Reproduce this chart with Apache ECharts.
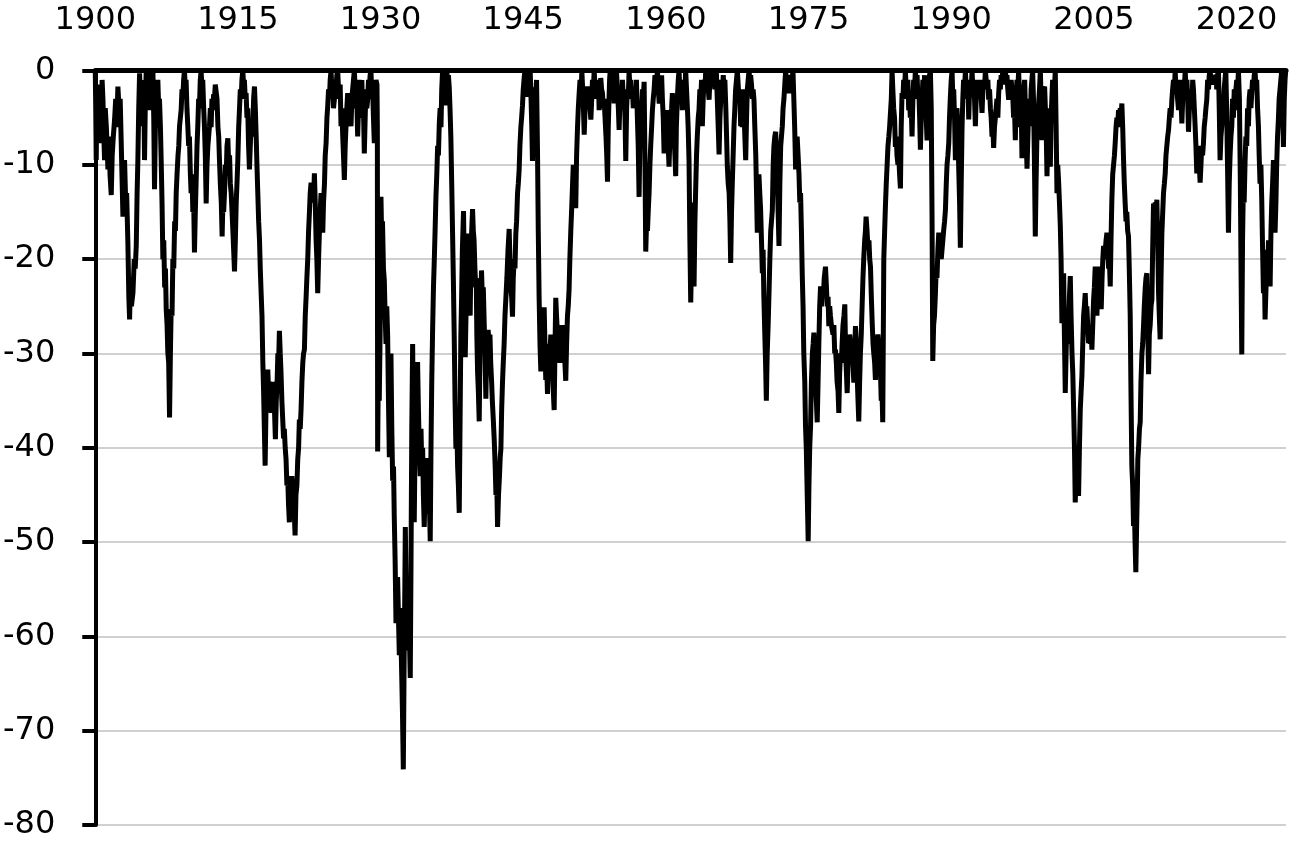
<!DOCTYPE html>
<html>
<head>
<meta charset="utf-8">
<script src="https://cdn.jsdelivr.net/npm/echarts@6/dist/echarts.min.js"></script>
<style>
html,body{margin:0;padding:0;background:#fff;}
#chart{width:1290px;height:841px;}
</style>
</head>
<body>
<div id="chart"></div>
<script>
// Drawdown (%), as [year, value] pairs
const era1900_1929 = [
[1900.00,0],[1900.05,-4],[1900.10,-9.5],[1900.18,-2],[1900.25,-6],[1900.30,-1.5],[1900.38,-5],[1900.46,-7.7],[1900.55,-2],[1900.65,-5],[1900.72,-1],[1900.81,-3.1],[1900.90,-7],[1900.98,-9.5],[1901.05,-4],[1901.16,-5.9],[1901.25,-8],[1901.33,-10.5],[1901.45,-7],[1901.55,-11],[1901.68,-13.2],[1901.78,-9],[1901.90,-7],[1902.03,-5.2],[1902.15,-3],[1902.25,-6],[1902.38,-1.7],[1902.50,-4],[1902.62,-3],[1902.73,-7.7],[1902.91,-15.5],[1903.00,-12],[1903.08,-9.5],[1903.20,-14],[1903.30,-13],[1903.43,-18.3],[1903.53,-24],[1903.61,-26.4],[1903.70,-22],[1903.80,-25],[1903.96,-23.6],[1904.10,-20],[1904.20,-21],[1904.31,-18.6],[1904.40,-13],[1904.48,-9.5],[1904.57,-4],[1904.66,-0.3],[1904.75,-3],[1904.83,-5.9],[1904.92,-1],[1905.00,-4],[1905.10,-2],[1905.18,-9.5],[1905.27,-3],[1905.36,0],[1905.45,-2],[1905.53,0],[1905.62,-3],[1905.71,-4.2],[1905.80,-1],[1905.88,0],[1905.97,-2],[1906.06,0],[1906.15,-5],[1906.23,-12.6],[1906.32,-6],[1906.40,-3],[1906.50,-4],[1906.58,-1],[1906.67,-4],[1906.75,-3],[1906.85,-6],[1906.93,-9.5],[1907.02,-14],[1907.11,-20],[1907.20,-18],[1907.30,-23],[1907.38,-21],[1907.46,-25.3],[1907.55,-27],[1907.63,-29.9],[1907.72,-31],[1907.81,-36.8],[1907.90,-30],[1907.98,-25.3],[1908.07,-26],[1908.16,-20],[1908.25,-21],[1908.35,-16],[1908.43,-17],[1908.51,-13],[1908.60,-11],[1908.70,-9],[1908.78,-8],[1908.86,-5.9],[1908.95,-6],[1909.03,-4.2],[1909.12,-2],[1909.20,-3],[1909.29,-1],[1909.38,0],[1909.47,-2],[1909.55,-1],[1909.64,-4],[1909.73,-5.9],[1909.82,-8],[1909.90,-7],[1910.00,-11],[1910.08,-13],[1910.17,-11],[1910.26,-15],[1910.35,-14],[1910.43,-19.3],[1910.52,-15],[1910.60,-12],[1910.70,-8],[1910.78,-5.9],[1910.87,-3],[1910.95,-4],[1911.04,-1],[1911.13,0],[1911.22,-2],[1911.30,-1],[1911.40,-4],[1911.48,-5.9],[1911.57,-9],[1911.66,-14.1],[1911.75,-10],[1911.84,-8],[1911.92,-7],[1912.01,-5.9],[1912.10,-4],[1912.18,-6],[1912.27,-3],[1912.36,-4.2],[1912.45,-2.5],[1912.53,-3],[1912.62,-1.5],[1912.71,-1.7],[1912.80,-3],[1912.90,-6],[1912.98,-7],[1913.06,-9.5],[1913.15,-12],[1913.25,-14],[1913.34,-17.6],[1913.42,-14],[1913.50,-15],[1913.59,-13],[1913.68,-10],[1913.77,-11],[1913.85,-8],[1913.94,-7.2],[1914.03,-10],[1914.12,-9],[1914.20,-12],[1914.29,-13],[1914.38,-15],[1914.47,-17],[1914.55,-19],[1914.64,-21.3],[1914.73,-18],[1914.82,-14],[1914.90,-12],[1914.99,-9.5],[1915.08,-6],[1915.16,-4.2],[1915.25,-2],[1915.34,-3],[1915.42,-1],[1915.51,0],[1915.60,-1.5],[1915.68,-1],[1915.77,-3],[1915.86,-2.4],[1915.95,-5],[1916.03,-4],[1916.12,-8],[1916.21,-10.5],[1916.30,-8],[1916.38,-6],[1916.47,-7],[1916.56,-5.9],[1916.65,-3],[1916.74,-1.7],[1916.83,-4],[1916.92,-7],[1917.00,-10],[1917.09,-13],[1917.18,-16],[1917.27,-18],[1917.35,-21],[1917.44,-23.6],[1917.53,-26],[1917.62,-31],[1917.70,-34],[1917.78,-38],[1917.86,-41.9],[1917.95,-36],[1918.05,-33],[1918.14,-31.7],[1918.22,-34],[1918.30,-33],[1918.40,-35],[1918.49,-36.3],[1918.58,-34],[1918.66,-35],[1918.75,-33],[1918.84,-32.8],[1918.94,-39.1],[1919.03,-35],[1919.12,-33],[1919.20,-30],[1919.28,-31],[1919.36,-27.6],[1919.45,-30],[1919.53,-32],[1919.62,-35],[1919.71,-37],[1919.80,-39],[1919.88,-38],[1919.97,-40],[1920.06,-41.2],[1920.15,-44],[1920.23,-43],[1920.32,-46],[1920.41,-47.9],[1920.50,-44],[1920.58,-46],[1920.67,-43],[1920.76,-44.7],[1920.85,-46],[1920.93,-47],[1921.01,-49.3],[1921.10,-45],[1921.20,-44],[1921.29,-41.2],[1921.38,-40],[1921.46,-37],[1921.55,-38],[1921.64,-35.9],[1921.73,-33],[1921.82,-31],[1921.90,-30],[1921.99,-29.6],[1922.08,-26],[1922.17,-24],[1922.25,-22],[1922.34,-20],[1922.43,-17],[1922.52,-15],[1922.60,-13],[1922.69,-11.9],[1922.78,-13],[1922.87,-12],[1922.95,-14],[1923.04,-10.9],[1923.13,-14],[1923.22,-18],[1923.30,-20],[1923.39,-23.6],[1923.48,-20],[1923.57,-17],[1923.65,-15],[1923.74,-13],[1923.83,-15],[1923.92,-17.2],[1924.00,-14],[1924.10,-12],[1924.18,-9],[1924.27,-7.7],[1924.36,-5],[1924.44,-3.8],[1924.53,-2],[1924.62,-3],[1924.70,-1],[1924.79,0],[1924.88,-2],[1924.96,-1],[1925.05,-4],[1925.14,-3.1],[1925.22,-1],[1925.31,-2],[1925.40,-0.5],[1925.49,0],[1925.58,-2],[1925.67,-3],[1925.75,-1.5],[1925.84,-5.9],[1925.93,-4],[1926.02,-7],[1926.10,-9],[1926.19,-11.6],[1926.28,-8],[1926.36,-6],[1926.45,-4],[1926.54,-2.4],[1926.63,-4],[1926.71,-3],[1926.80,-5],[1926.89,-5.9],[1926.98,-3],[1927.06,-2],[1927.15,-1],[1927.24,0],[1927.33,-2],[1927.41,-4],[1927.50,-3],[1927.59,-7],[1927.68,-4],[1927.76,-1],[1927.85,-3],[1927.94,-2.4],[1928.03,-1],[1928.11,-5],[1928.20,-4],[1928.29,-8.8],[1928.38,-5],[1928.46,-2],[1928.55,-4],[1928.64,-3.1],[1928.73,-1],[1928.81,-2],[1928.90,-0.5],[1928.99,0],[1929.08,-3],[1929.16,-2],[1929.25,-5],[1929.34,-7.7],[1929.43,-3],[1929.52,-1],[1929.62,-1.5],[1929.66,-6]
];
const era1929_1952 = [
[1929.69,-40.4],[1929.78,-30],[1929.86,-35],[1929.95,-28],[1930.04,-13.4],[1930.12,-18],[1930.20,-16],[1930.30,-21],[1930.39,-22.2],[1930.48,-26],[1930.57,-29],[1930.65,-25],[1930.74,-28],[1930.83,-35],[1930.92,-41],[1931.00,-36],[1931.09,-30],[1931.18,-38],[1931.27,-43.5],[1931.36,-42],[1931.44,-47.4],[1931.53,-52],[1931.62,-58.6],[1931.70,-55],[1931.79,-53.7],[1931.88,-58],[1931.97,-62],[1932.05,-57],[1932.14,-60],[1932.22,-64],[1932.30,-68],[1932.39,-74.1],[1932.48,-62],[1932.55,-55],[1932.60,-48.4],[1932.68,-55],[1932.77,-61.5],[1932.86,-58],[1932.95,-55.2],[1933.03,-60],[1933.12,-64.4],[1933.20,-52],[1933.28,-38],[1933.37,-29],[1933.45,-38],[1933.54,-47.9],[1933.62,-40],[1933.70,-36],[1933.80,-33],[1933.89,-30.9],[1933.98,-36],[1934.07,-40],[1934.17,-43],[1934.25,-38],[1934.33,-42],[1934.42,-40],[1934.50,-45],[1934.59,-48.4],[1934.68,-44],[1934.78,-46],[1934.87,-41.1],[1934.96,-45],[1935.05,-47],[1935.14,-46],[1935.22,-49.9],[1935.30,-40],[1935.38,-33],[1935.47,-27.5],[1935.56,-23],[1935.65,-20],[1935.73,-17],[1935.82,-13.4],[1935.91,-11],[1936.00,-8],[1936.08,-9],[1936.17,-5.7],[1936.26,-4],[1936.35,-6],[1936.43,-2],[1936.52,0],[1936.60,-2],[1936.68,-1],[1936.76,-3.7],[1936.86,-1],[1936.97,0],[1937.05,-2],[1937.13,-0.5],[1937.22,-1.8],[1937.30,-4],[1937.39,-7.1],[1937.48,-12],[1937.57,-17.3],[1937.65,-22],[1937.74,-28],[1937.83,-35],[1937.92,-40.1],[1938.00,-37],[1938.10,-42],[1938.18,-44],[1938.27,-46.9],[1938.35,-38],[1938.44,-28],[1938.52,-24],[1938.60,-19],[1938.72,-14.9],[1938.81,-22],[1938.90,-30.4],[1939.00,-25],[1939.07,-20],[1939.14,-17.3],[1939.23,-21],[1939.32,-24],[1939.42,-26],[1939.50,-20],[1939.58,-17],[1939.67,-14.7],[1939.75,-17],[1939.83,-18],[1939.91,-20.7],[1940.00,-23],[1940.06,-22],[1940.12,-28],[1940.20,-32],[1940.28,-34],[1940.37,-37.2],[1940.45,-30],[1940.53,-25],[1940.61,-21.2],[1940.70,-24],[1940.80,-23],[1940.89,-26.6],[1940.98,-30],[1941.07,-34.8],[1941.15,-30],[1941.23,-29],[1941.31,-27.5],[1941.40,-29],[1941.50,-28],[1941.58,-31],[1941.67,-32.9],[1941.75,-35],[1941.85,-37],[1941.95,-39.2],[1942.05,-42],[1942.13,-45],[1942.22,-44],[1942.30,-48.4],[1942.40,-45],[1942.50,-43],[1942.58,-41],[1942.65,-40.1],[1942.73,-36],[1942.82,-33],[1942.90,-31],[1942.99,-29],[1943.08,-26],[1943.18,-24],[1943.28,-22],[1943.40,-19],[1943.52,-16.8],[1943.60,-20],[1943.70,-23],[1943.78,-24],[1943.87,-26.1],[1943.95,-22],[1944.05,-20],[1944.13,-21],[1944.22,-17.3],[1944.30,-16],[1944.40,-13],[1944.48,-12],[1944.57,-10.5],[1944.65,-8],[1944.75,-6],[1944.83,-5],[1944.92,-3.7],[1945.00,-2],[1945.08,-1],[1945.17,0],[1945.25,-1.5],[1945.35,-0.5],[1945.45,-2.8],[1945.55,-1],[1945.63,-2],[1945.73,0],[1945.82,-3],[1945.90,-6],[1945.97,-9.6],[1946.05,-5],[1946.13,-3],[1946.22,-1.8],[1946.30,-3],[1946.40,-1],[1946.50,-8.6],[1946.58,-17],[1946.67,-24.1],[1946.76,-29],[1946.85,-31.9],[1946.93,-28],[1947.02,-26],[1947.10,-28],[1947.20,-25.1],[1947.28,-29],[1947.37,-32.8],[1947.46,-31],[1947.55,-34.3],[1947.64,-30],[1947.72,-29],[1947.81,-30],[1947.90,-28],[1947.98,-30],[1948.07,-32],[1948.16,-34],[1948.25,-36],[1948.33,-30],[1948.42,-24.1],[1948.50,-26],[1948.60,-28],[1948.68,-27],[1948.77,-30],[1948.86,-31],[1948.95,-29],[1949.03,-28],[1949.12,-27],[1949.20,-29],[1949.30,-30],[1949.38,-31],[1949.47,-32.9],[1949.56,-29],[1949.65,-26],[1949.73,-25],[1949.82,-23.2],[1949.90,-20],[1950.00,-17],[1950.08,-15],[1950.17,-12.5],[1950.26,-10],[1950.35,-11],[1950.43,-13],[1950.52,-14.6],[1950.61,-9],[1950.70,-6.2],[1950.79,-4],[1950.88,-2.4],[1950.97,-1],[1951.07,-3],[1951.16,0],[1951.25,-2],[1951.33,-4],[1951.41,-6.8],[1951.50,-4],[1951.58,-2],[1951.67,-3],[1951.76,-1.7],[1951.85,-3],[1951.93,-2],[1952.02,-4],[1952.11,-5.2],[1952.20,-3],[1952.28,-1]
];
const era1952_1974 = [
[1952.37,-2],[1952.46,0],[1952.55,-2],[1952.62,-1],[1952.70,-3],[1952.80,-2],[1952.90,-1],[1952.98,-4.2],[1953.07,-2],[1953.15,-0.8],[1953.24,-2],[1953.33,-2.4],[1953.42,-4],[1953.50,-3],[1953.60,-5],[1953.70,-7],[1953.78,-9],[1953.86,-11.8],[1953.94,-6],[1954.02,-3],[1954.08,-1],[1954.14,0],[1954.22,-1],[1954.30,0],[1954.38,-2],[1954.46,-1],[1954.56,-3.5],[1954.65,-1],[1954.72,-2],[1954.80,0],[1954.90,-2],[1955.00,-4],[1955.08,-6.3],[1955.17,-3],[1955.26,-2],[1955.34,-4],[1955.43,-1],[1955.52,-3],[1955.60,-2],[1955.70,-5],[1955.78,-9.6],[1955.87,-4],[1955.95,-2],[1956.04,-3],[1956.13,0],[1956.22,-2],[1956.30,-1],[1956.40,-3],[1956.48,-2],[1956.57,-4],[1956.66,-4.2],[1956.75,-2],[1956.82,-3],[1956.90,-1],[1957.00,-5],[1957.09,-8],[1957.18,-13.4],[1957.27,-7],[1957.36,-5],[1957.45,-4],[1957.54,-2],[1957.62,-3],[1957.71,-1.2],[1957.80,-10],[1957.88,-19.2],[1957.97,-16],[1958.06,-17],[1958.14,-15],[1958.23,-13],[1958.32,-10],[1958.40,-8],[1958.50,-6],[1958.58,-4.2],[1958.67,-3],[1958.76,-2],[1958.85,-0.5],[1958.94,-1.5],[1959.02,-1],[1959.11,0],[1959.20,-2],[1959.30,-3.5],[1959.38,-1],[1959.46,-2.4],[1959.55,-0.5],[1959.63,-3],[1959.72,-5],[1959.81,-8.8],[1959.90,-6],[1959.98,-5],[1960.05,-4.2],[1960.14,-7],[1960.24,-8],[1960.33,-10.2],[1960.42,-7],[1960.50,-5],[1960.60,-4],[1960.68,-2.4],[1960.77,-5],[1960.86,-7],[1960.95,-9],[1961.03,-11.2],[1961.10,-6],[1961.20,-3],[1961.30,-1],[1961.38,0],[1961.46,-2],[1961.55,-3],[1961.64,-1],[1961.73,-4.2],[1961.82,-2],[1961.90,-1],[1962.00,-2],[1962.08,0],[1962.17,-2],[1962.26,-4],[1962.34,-6],[1962.43,-9.5],[1962.52,-18],[1962.61,-24.6],[1962.70,-20],[1962.80,-14],[1962.88,-18],[1962.96,-22.9],[1963.05,-16],[1963.13,-12.6],[1963.22,-9],[1963.30,-7],[1963.40,-5],[1963.48,-4.2],[1963.57,-2],[1963.66,-3],[1963.75,-1],[1963.83,-5.9],[1963.92,-3],[1964.00,-1],[1964.10,-2],[1964.19,0],[1964.28,-1.5],[1964.36,-0.5],[1964.45,-2],[1964.54,-3.1],[1964.63,-1],[1964.72,-0.5],[1964.80,0],[1964.90,-1.5],[1964.98,-0.5],[1965.06,-1],[1965.15,-2],[1965.22,-0.5],[1965.30,0],[1965.40,-3],[1965.50,-6],[1965.59,-8.9],[1965.68,-5],[1965.77,-3],[1965.85,-1],[1965.94,-2.4],[1966.03,-0.5],[1966.12,-2],[1966.20,-1],[1966.30,-4],[1966.38,-7],[1966.46,-10.2],[1966.55,-12],[1966.65,-13],[1966.73,-16],[1966.81,-20.4],[1966.90,-15],[1966.98,-12],[1967.07,-9],[1967.16,-5.9],[1967.25,-4],[1967.33,-2],[1967.42,-1],[1967.51,0],[1967.60,-1.5],[1967.68,-3],[1967.77,-2],[1967.86,-5.9],[1967.95,-4],[1968.03,-6],[1968.10,-2],[1968.20,-4],[1968.30,-7],[1968.39,-9.5],[1968.48,-5],[1968.56,-2],[1968.65,-1],[1968.74,0],[1968.82,-1],[1968.91,-0.5],[1969.00,-1.5],[1969.09,-3],[1969.17,-2],[1969.26,-3.1],[1969.35,-6],[1969.45,-9],[1969.53,-13],[1969.61,-17.2],[1969.70,-13],[1969.78,-11],[1969.87,-13],[1969.96,-14.8],[1970.05,-18],[1970.14,-21.5],[1970.22,-19],[1970.30,-24],[1970.40,-28],[1970.48,-31],[1970.56,-35],[1970.65,-30],[1970.75,-27],[1970.84,-23.6],[1970.93,-20],[1971.02,-17],[1971.10,-16],[1971.19,-14.8],[1971.28,-10],[1971.36,-8],[1971.45,-7],[1971.54,-6.5],[1971.63,-9],[1971.72,-12],[1971.80,-15],[1971.89,-18.6],[1971.98,-12],[1972.07,-8],[1972.15,-7],[1972.24,-5.9],[1972.32,-4],[1972.41,-3],[1972.50,-1.5],[1972.59,0],[1972.68,-1],[1972.76,-0.5],[1972.85,-1.5],[1972.94,-2.4],[1973.02,-0.5],[1973.10,-1],[1973.20,-0.5],[1973.28,-1],[1973.36,0],[1973.45,-3],[1973.54,-6],[1973.64,-10.5],[1973.72,-8],[1973.80,-7],[1973.90,-9],[1973.99,-10.9],[1974.08,-14],[1974.16,-13],[1974.25,-17]
];
const era1974_1997 = [
[1974.34,-21.8],[1974.42,-25],[1974.50,-30],[1974.60,-33],[1974.68,-37.7],[1974.76,-40],[1974.84,-44],[1974.90,-47],[1974.96,-49.9],[1975.04,-44],[1975.12,-40],[1975.21,-37.7],[1975.30,-33],[1975.40,-30],[1975.48,-29],[1975.56,-27.8],[1975.65,-31],[1975.74,-33],[1975.82,-35],[1975.91,-37.3],[1976.00,-33],[1976.08,-29],[1976.17,-25],[1976.26,-22.9],[1976.35,-25],[1976.45,-23],[1976.55,-24],[1976.65,-22],[1976.78,-20.8],[1976.88,-23],[1976.96,-25],[1977.05,-24],[1977.13,-27.1],[1977.22,-25],[1977.30,-26],[1977.40,-27],[1977.48,-26.8],[1977.57,-28],[1977.66,-27],[1977.75,-30],[1977.83,-29.6],[1977.92,-31],[1978.00,-33],[1978.10,-34],[1978.18,-36.3],[1978.27,-32],[1978.36,-30],[1978.45,-31],[1978.53,-28.9],[1978.62,-27],[1978.72,-26],[1978.81,-24.8],[1978.90,-30],[1978.98,-32],[1979.06,-34.2],[1979.15,-31],[1979.24,-30],[1979.32,-28],[1979.41,-28.9],[1979.50,-30],[1979.58,-29],[1979.67,-31],[1979.76,-33.1],[1979.85,-30],[1979.93,-27.1],[1980.02,-29],[1980.10,-32],[1980.20,-35],[1980.28,-37.2],[1980.37,-33],[1980.45,-30],[1980.54,-28],[1980.63,-25],[1980.72,-22],[1980.80,-20],[1980.90,-18],[1980.98,-17],[1981.05,-15.5],[1981.15,-17],[1981.25,-19],[1981.35,-18],[1981.43,-20],[1981.51,-20.8],[1981.60,-24],[1981.70,-27],[1981.78,-29],[1981.86,-30],[1981.95,-31],[1982.03,-32.8],[1982.12,-30],[1982.20,-29],[1982.29,-28],[1982.38,-27.8],[1982.47,-30],[1982.56,-32],[1982.64,-35],[1982.72,-34],[1982.80,-37.3],[1982.86,-28],[1982.91,-20],[1983.00,-17],[1983.08,-14.4],[1983.17,-12],[1983.26,-10],[1983.35,-8],[1983.44,-7],[1983.52,-6],[1983.61,-5.9],[1983.70,-3],[1983.78,0],[1983.86,-2],[1983.95,-4],[1984.04,-5],[1984.13,-8.1],[1984.22,-7],[1984.30,-9],[1984.40,-10],[1984.48,-9],[1984.57,-11],[1984.66,-12.5],[1984.74,-6],[1984.83,-2.4],[1984.92,-3],[1985.00,-1],[1985.09,-2],[1985.18,0],[1985.27,-2],[1985.36,-3],[1985.44,-1],[1985.53,-4.2],[1985.62,-3],[1985.70,-5],[1985.80,-4],[1985.88,-7],[1985.97,-3],[1986.05,-1],[1986.14,-2],[1986.23,0],[1986.32,-1.5],[1986.41,-0.5],[1986.50,-3],[1986.59,-2],[1986.68,-5],[1986.76,-8.4],[1986.85,-5],[1986.94,-3],[1987.02,-1],[1987.11,-2.4],[1987.20,-0.5],[1987.28,-3],[1987.37,-5],[1987.46,-7.4],[1987.55,-3],[1987.63,-1],[1987.72,-0.5],[1987.81,0],[1987.90,-4],[1987.98,-15],[1988.06,-30.8],[1988.15,-27],[1988.24,-26],[1988.34,-23.6],[1988.42,-21],[1988.50,-22],[1988.60,-19],[1988.69,-17.2],[1988.78,-19],[1988.86,-18],[1988.95,-20],[1989.04,-20],[1989.12,-18],[1989.20,-17],[1989.30,-16],[1989.39,-14.8],[1989.48,-12],[1989.56,-10],[1989.65,-9],[1989.74,-7.7],[1989.82,-5],[1989.90,-3],[1990.00,-1],[1990.09,0],[1990.17,-3],[1990.26,-2],[1990.35,-5],[1990.44,-9.5],[1990.52,-7],[1990.60,-4],[1990.70,-6],[1990.79,-10.5],[1990.88,-14],[1990.96,-18.8],[1991.05,-12],[1991.14,-5.9],[1991.22,-3],[1991.30,-1],[1991.40,-2],[1991.49,0],[1991.58,-2],[1991.66,-3],[1991.75,-1],[1991.84,-5.2],[1991.93,-2],[1992.02,-1],[1992.10,-2],[1992.19,0],[1992.28,-2],[1992.36,-1],[1992.45,-3],[1992.54,-5.9],[1992.62,-3],[1992.71,-2],[1992.80,-3],[1992.89,-1],[1992.98,-2],[1993.06,-1],[1993.15,-3],[1993.24,-4.5],[1993.33,-2],[1993.42,-1],[1993.50,-2],[1993.59,0],[1993.68,-1],[1993.76,-2],[1993.85,-1],[1993.94,-3.1],[1994.03,-2],[1994.12,-4],[1994.20,-5],[1994.29,-7],[1994.38,-6],[1994.46,-8.2],[1994.55,-6],[1994.64,-5],[1994.72,-4],[1994.81,-3],[1994.90,-5],[1994.99,-2.4],[1995.08,-1],[1995.16,-2],[1995.25,-0.5],[1995.34,-1],[1995.43,0],[1995.52,-1.5],[1995.60,-0.5],[1995.69,0],[1995.78,-1],[1995.86,-0.5],[1995.95,-2],[1996.04,-3.1],[1996.13,-1],[1996.22,-2],[1996.30,-1],[1996.39,-1],[1996.48,-3],[1996.56,-5],[1996.65,-4],[1996.74,-7.4],[1996.82,-3],[1996.91,-1],[1997.00,-2],[1997.09,0],[1997.18,-3],[1997.27,-6]
];
const era1997_2025 = [
[1997.36,-4],[1997.44,-9.3],[1997.53,-4],[1997.62,-2],[1997.72,-1],[1997.80,-4],[1997.88,-7],[1997.97,-10.4],[1998.06,-7],[1998.14,-4],[1998.23,-3],[1998.32,-5.9],[1998.40,-2],[1998.48,-1],[1998.56,0],[1998.65,-3],[1998.74,-9],[1998.84,-17.6],[1998.92,-12],[1999.01,-7],[1999.10,-5],[1999.19,-4.9],[1999.28,-2],[1999.37,0],[1999.45,-3],[1999.54,-7.4],[1999.63,-4],[1999.72,-2],[1999.82,-1.7],[1999.90,-4],[1999.98,-6],[2000.07,-11.2],[2000.16,-7],[2000.24,-4],[2000.33,-7],[2000.42,-10.2],[2000.50,-5],[2000.58,-3],[2000.66,-1],[2000.75,-4],[2000.85,-2],[2000.94,0],[2001.03,-6],[2001.12,-13],[2001.20,-10],[2001.30,-12],[2001.38,-14],[2001.47,-16.5],[2001.55,-20],[2001.64,-26.8],[2001.72,-24],[2001.82,-21.5],[2001.90,-28],[2001.99,-34.2],[2002.08,-30],[2002.17,-26],[2002.26,-29],[2002.34,-27.1],[2002.43,-24],[2002.52,-21.8],[2002.60,-26],[2002.70,-30],[2002.78,-32],[2002.87,-35.9],[2002.96,-40],[2003.04,-45.8],[2003.12,-43],[2003.22,-40],[2003.30,-42],[2003.39,-45.1],[2003.48,-40],[2003.57,-35.9],[2003.66,-34],[2003.74,-32.4],[2003.83,-29],[2003.92,-26],[2004.00,-25],[2004.09,-23.6],[2004.18,-26],[2004.26,-25],[2004.35,-27],[2004.44,-28.9],[2004.53,-27],[2004.62,-29],[2004.70,-27],[2004.79,-29.6],[2004.88,-27],[2004.97,-24.3],[2005.05,-23],[2005.14,-20.8],[2005.23,-24],[2005.32,-26],[2005.40,-23],[2005.49,-20.8],[2005.58,-22],[2005.68,-24],[2005.77,-25.3],[2005.86,-22],[2005.94,-20],[2006.02,-18.6],[2006.10,-20],[2006.20,-19],[2006.28,-18],[2006.37,-17.2],[2006.46,-19],[2006.55,-21],[2006.63,-20],[2006.72,-22.9],[2006.80,-18],[2006.89,-13.7],[2006.98,-11],[2007.07,-10],[2007.16,-9],[2007.24,-7.7],[2007.33,-6],[2007.42,-5],[2007.50,-6],[2007.59,-4.2],[2007.68,-5],[2007.77,-4],[2007.85,-5],[2007.94,-3.5],[2008.03,-6],[2008.12,-9.5],[2008.20,-12],[2008.29,-14.1],[2008.38,-16],[2008.46,-15],[2008.55,-17],[2008.64,-17.6],[2008.72,-21],[2008.82,-26],[2008.90,-34],[2008.99,-41.9],[2009.08,-44],[2009.17,-48.3],[2009.25,-46],[2009.33,-50],[2009.41,-53.2],[2009.50,-48],[2009.58,-44],[2009.62,-41.2],[2009.70,-40],[2009.79,-38],[2009.87,-37.3],[2009.95,-33],[2010.05,-30],[2010.13,-29],[2010.22,-27.1],[2010.30,-25],[2010.40,-23],[2010.48,-22],[2010.57,-21.5],[2010.66,-27],[2010.75,-32.2],[2010.83,-28],[2010.92,-27],[2011.01,-25],[2011.10,-24.3],[2011.18,-19],[2011.27,-14.1],[2011.36,-15],[2011.45,-14],[2011.53,-16],[2011.62,-13.7],[2011.71,-18],[2011.80,-23.6],[2011.88,-26],[2011.97,-28.5],[2012.06,-22],[2012.15,-17.2],[2012.24,-15],[2012.32,-13],[2012.41,-12],[2012.50,-10.9],[2012.58,-9],[2012.67,-8],[2012.76,-7],[2012.85,-6.3],[2012.94,-5],[2013.02,-4],[2013.11,-5],[2013.20,-3.1],[2013.28,-2],[2013.37,-1],[2013.46,-2],[2013.55,0],[2013.63,-2],[2013.72,-1],[2013.80,-3],[2013.90,-4.2],[2013.98,-2],[2014.07,-1],[2014.16,-3],[2014.25,-5.6],[2014.34,-3],[2014.42,-1],[2014.51,-2],[2014.60,0],[2014.69,-2],[2014.78,-1],[2014.86,-3],[2014.95,-6.5],[2015.04,-4],[2015.13,-2],[2015.21,-3],[2015.30,-3.8],[2015.39,-1],[2015.47,-2],[2015.56,-4],[2015.65,-6],[2015.73,-8],[2015.82,-10.9],[2015.91,-8],[2016.00,-9],[2016.08,-10],[2016.17,-11.9],[2016.26,-10],[2016.34,-8],[2016.43,-9],[2016.52,-7.7],[2016.60,-6],[2016.70,-5],[2016.78,-4],[2016.87,-3.1],[2016.96,-1],[2017.05,-2],[2017.13,-0.5],[2017.22,0],[2017.30,-1],[2017.40,-0.5],[2017.50,-1.5],[2017.58,-0.5],[2017.66,-1],[2017.75,-1],[2017.84,-0.5],[2017.92,-2],[2018.00,-0.5],[2018.10,0],[2018.18,-4],[2018.27,-9.5],[2018.36,-7],[2018.44,-6],[2018.53,-5],[2018.62,-4.2],[2018.70,-2],[2018.78,-1],[2018.87,0],[2018.96,-4],[2019.05,-10],[2019.15,-17.2],[2019.23,-12],[2019.32,-9],[2019.41,-7],[2019.50,-5.9],[2019.58,-3],[2019.67,-5],[2019.76,-2],[2019.85,-4.2],[2019.93,-2],[2020.02,-1],[2020.11,-2],[2020.20,0],[2020.30,-3],[2020.40,-12],[2020.48,-22],[2020.55,-30.1],[2020.63,-18],[2020.72,-12],[2020.80,-14],[2020.90,-9.5],[2020.98,-7],[2021.07,-8],[2021.16,-4],[2021.25,-5.9],[2021.33,-3],[2021.42,-2],[2021.51,-4],[2021.60,-2.4],[2021.68,-1],[2021.77,-2],[2021.86,-0.5],[2021.95,0],[2022.04,-2],[2022.12,-1],[2022.21,-4],[2022.30,-5.9],[2022.38,-9],[2022.47,-12],[2022.56,-10],[2022.65,-13.7],[2022.74,-19],[2022.83,-23.6],[2022.92,-21],[2023.00,-26.4],[2023.10,-23],[2023.19,-19],[2023.28,-21.5],[2023.36,-18],[2023.45,-20],[2023.53,-22.9],[2023.62,-17],[2023.70,-14],[2023.79,-12],[2023.88,-9.5],[2023.96,-13],[2024.05,-17.2],[2024.14,-14],[2024.22,-10],[2024.31,-7],[2024.40,-5.2],[2024.48,-3],[2024.57,-2],[2024.66,-1],[2024.75,0],[2024.84,-3],[2024.93,-8.1],[2025.02,-3],[2025.10,-1],[2025.17,0]
];
const xTickYears = [1900,1915,1930,1945,1960,1975,1990,2005,2020];
const yTicks = [0,-10,-20,-30,-40,-50,-60,-70,-80];

const drawdown = [].concat(era1900_1929, era1929_1952, era1952_1974, era1974_1997, era1997_2025);

const chart = echarts.init(document.getElementById('chart'), null, {renderer:'canvas'});
chart.setOption({
  animation:false,
  backgroundColor:'#fff',
  grid:{left:94, right:4, top:70.5, bottom:14, containLabel:false},
  xAxis:{
    type:'value', position:'top', min:1900, max:2025.2, interval:15,
    axisLine:{show:true, onZero:false, lineStyle:{color:'#000', width:5}},
    axisTick:{show:false},
    splitLine:{show:false},
    axisLabel:{
      show:true, margin:34, color:'#000', fontSize:32, fontFamily:'DejaVu Sans',
      showMaxLabel:false,
      formatter:function(v){ var r=Math.round(v); return (xTickYears.indexOf(r)>=0 && Math.abs(v-r)<1e-6) ? String(r) : ''; }
    }
  },
  yAxis:{
    type:'value', min:-80, max:0, interval:10,
    axisLine:{show:true, onZero:false, lineStyle:{color:'#000', width:4}},
    axisTick:{show:true, length:13, lineStyle:{color:'#000', width:4}},
    splitLine:{show:true, lineStyle:{color:'#c0c0c0', width:1.5}},
    axisLabel:{
      margin:40, color:'#000', fontSize:32, fontFamily:'DejaVu Sans',
      formatter:function(v){ return yTicks.indexOf(v)>=0 ? String(v) : ''; }
    }
  },
  series:[{
    type:'line', data:drawdown, showSymbol:false, clip:true,
    lineStyle:{color:'#000', width:5},
    z:1
  }]
});
</script>
</body>
</html>
